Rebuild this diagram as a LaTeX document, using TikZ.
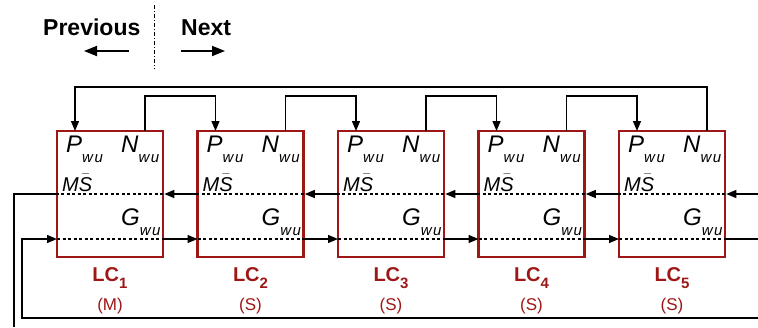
\documentclass[tikz,border=0pt]{standalone}
\usepackage{fontspec}
\setmainfont{Liberation Sans}
\usetikzlibrary{arrows.meta, calc}

\definecolor{lcred}{RGB}{158,22,22}

\begin{document}
\begin{tikzpicture}[x=1pt, y=-1pt,
    box/.style={draw=lcred, line width=2.6pt, minimum width=106pt,
                minimum height=126pt, inner sep=0pt},
    port/.style={inner sep=0pt, anchor=base west, font=\fontsize{24}{24}\selectfont\itshape},
    lcl/.style={inner sep=0pt, anchor=base, font=\fontsize{20}{20}\selectfont\bfseries, text=lcred},
    role/.style={inner sep=0pt, anchor=base, font=\fontsize{17}{17}\selectfont, text=lcred},
    hdr/.style={inner sep=0pt, anchor=base west, font=\fontsize{23}{23}\selectfont\bfseries},
    link/.style={line width=1.3pt},
    arr/.style={link, -{Triangle[length=10pt, width=8pt]}},
    sep/.style={line width=1.3pt, dash pattern=on 3pt off 2.5pt}
  ]
  \useasboundingbox (0,0) rectangle (758,327);
  \newcommand{\wu}{\smash{\raisebox{-10.5pt}{\fontsize{15}{15}\selectfont\itshape w\kern1.5pt u}}}
  % -- header --
  \node[hdr] (prev) at (43,35) {Previous};
  \node[hdr] (next) at (181,35) {Next};
  \coordinate (prevtip) at (84,51);
  \coordinate (prevtail) at (129,51);
  \coordinate (nexttail) at (181,51);
  \coordinate (nexttip) at (225,51);
  \draw[line width=1.8pt, -{Triangle[length=13pt, width=10pt]}] (prevtail) -- (prevtip);
  \draw[line width=1.8pt, -{Triangle[length=13pt, width=10pt]}] (nexttail) -- (nexttip);
  \coordinate (divtop) at (154,5);
  \coordinate (divbot) at (154,69);
  \draw[line width=1pt, dash pattern=on 4pt off 2pt on 1pt off 2pt] (divtop) -- (divbot);
  % -- local controllers --
  \foreach \i/\r in {1/M,2/S,3/S,4/S,5/S}{
    \pgfmathsetmacro{\x}{57+140.5*(\i-1)}
    \node[box] (lc\i) at (\x+53,194) {};
    \node[port] (p\i) at (\x+9,152) {P\wu};
    \node[port] (n\i) at (\x+64,152) {N\wu};
    \node[port, font=\fontsize{20}{20}\selectfont\itshape] (ms\i) at (\x+5,191)
      {M$\bar{\hbox{\textit{S}}}$};
    \node[port] (g\i) at (\x+64,225) {G\wu};
    \node[lcl] (lcl\i) at (\x+53,281) {LC\raisebox{-7pt}{\fontsize{15}{15}\selectfont\i}};
    \node[role] (role\i) at (\x+53,310) {(\r)};
    \coordinate (pin\i) at (\x+18,131);
    \coordinate (nout\i) at (\x+88,131);
    \coordinate (gw\i) at (\x,239);
    \coordinate (ge\i) at (\x+106,239);
    \draw[sep] (lc\i.west) -- (lc\i.east);
    \draw[sep] (gw\i) -- (ge\i);
  }
  % -- links between neighbours --
  \foreach \i in {1,...,4}{
    \pgfmathtruncatemacro{\j}{\i+1}
    \draw[arr] (lc\j.west) -- (lc\i.east);
    \draw[arr] (ge\i) -- (gw\j);
    \draw[arr] (nout\i) -- ++(0,-35) -| (pin\j);
  }
  \draw[arr] (nout5) -- ++(0,-44) -| (pin1);
  % -- outer ring --
  \coordinate (msleft) at (14,327);
  \coordinate (gleft) at (22,239);
  \coordinate (ringr) at (758,318);
  \coordinate (msright) at (758,194);
  \coordinate (gright) at (758,239);
  \draw[link] (lc1.west) -| (msleft);
  \draw[arr] (ringr) -| (gleft) -- (gw1);
  \draw[arr] (msright) -- (lc5.east);
  \draw[link] (ge5) -- (gright);
\end{tikzpicture}
\end{document}
